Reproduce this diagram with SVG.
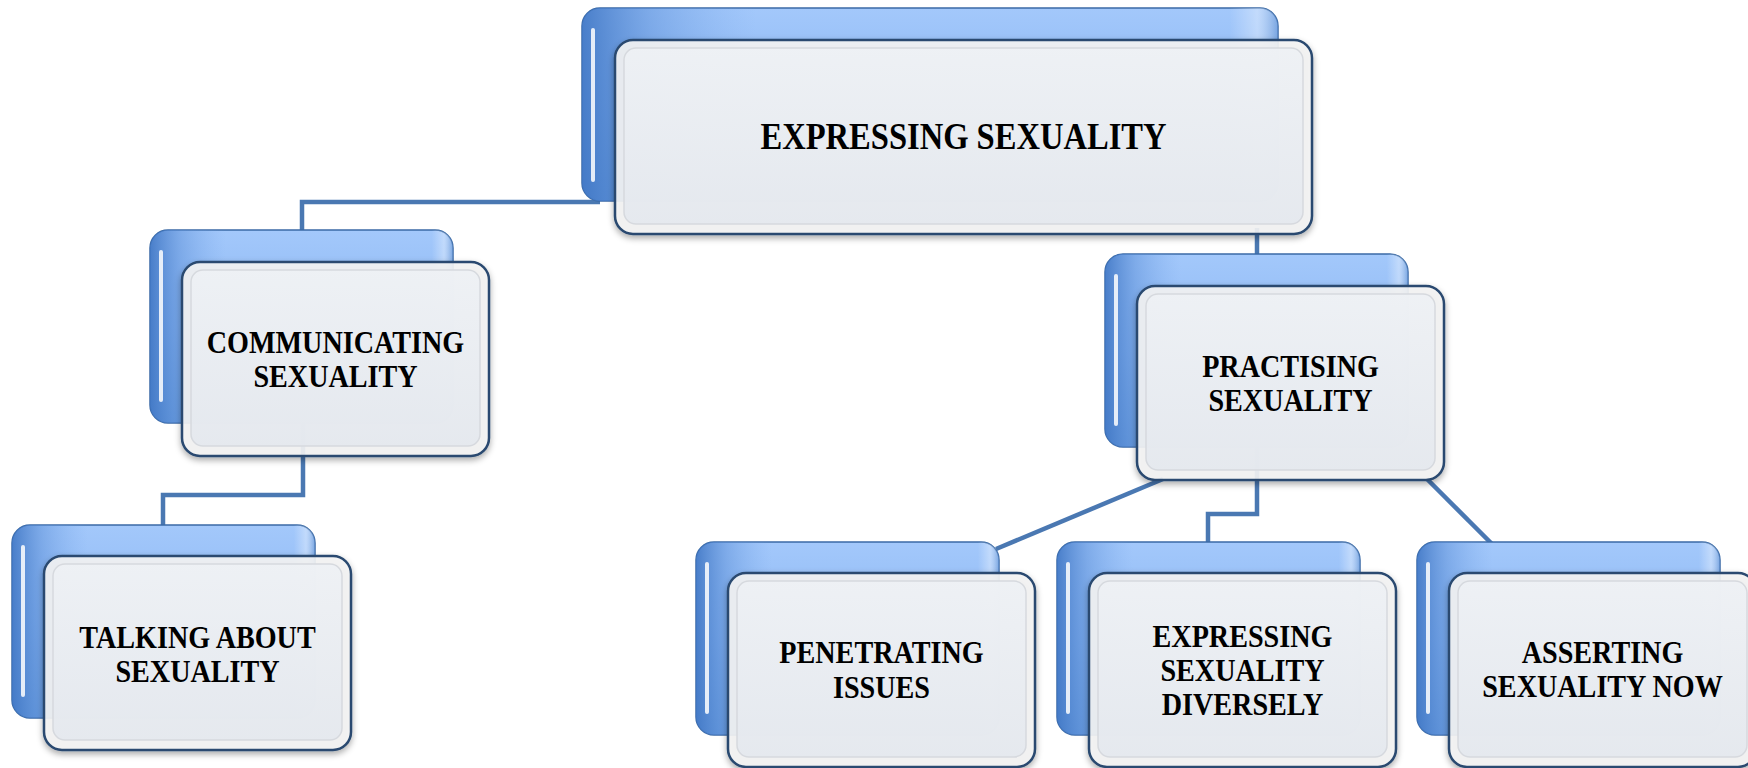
<svg xmlns="http://www.w3.org/2000/svg" width="1748" height="768" viewBox="0 0 1748 768">
<defs>
<linearGradient id="gBackV" x1="0" y1="0" x2="0" y2="1">
<stop offset="0" stop-color="#a3c8fb"/>
<stop offset="0.5" stop-color="#8db8f3"/>
<stop offset="1" stop-color="#6c9fe0"/>
</linearGradient>
<linearGradient id="gBackH" x1="0" y1="0" x2="1" y2="0">
<stop offset="0" stop-color="#3f76c4" stop-opacity="0.9"/>
<stop offset="0.1" stop-color="#5b8fd8" stop-opacity="0.5"/>
<stop offset="0.25" stop-color="#7aa9ea" stop-opacity="0"/>
<stop offset="0.93" stop-color="#ffffff" stop-opacity="0"/>
<stop offset="0.97" stop-color="#ffffff" stop-opacity="0.35"/>
<stop offset="1" stop-color="#5e8fd0" stop-opacity="0.6"/>
</linearGradient>
<linearGradient id="gFront" x1="0" y1="0" x2="0" y2="1">
<stop offset="0" stop-color="#eef1f5"/>
<stop offset="1" stop-color="#e4e8ee"/>
</linearGradient>
<filter id="shadow" x="-10%" y="-10%" width="120%" height="130%">
<feDropShadow dx="0" dy="3" stdDeviation="3" flood-color="#000" flood-opacity="0.35"/>
</filter>
</defs>
<style>
.back{fill:url(#gBackV);stroke:#3b6aa6;stroke-width:1.5}
.backH{fill:url(#gBackH)}
.hl{stroke:#ffffff;stroke-width:4;stroke-linecap:round;opacity:0.85}
.front{fill:#f4f4f4;fill-opacity:0.9;stroke:#2a4a70;stroke-width:2.5}
.inner{fill:url(#gFront);fill-opacity:0.9;stroke:#d6d9de;stroke-width:1.5}
.conn{fill:none;stroke:#4a78b2;stroke-width:4.5}
.lbl{font-family:"Liberation Serif","Times New Roman",serif;font-weight:bold;font-size:32px;fill:#000;text-anchor:middle}
.big{font-size:37px}
</style>

<g id="connectors">
<path class="conn" d="M302,231 V202 H600"/>
<path class="conn" d="M303,420 V495 H163 V528"/>
<path class="conn" d="M1257,228 V258"/>
<path class="conn" d="M1163,479 L996,549"/>
<path class="conn" d="M1257,446 V514 H1208 V545"/>
<path class="conn" d="M1427,479 L1497,549"/>
</g>

<g id="node-expressing-sexuality">
<rect class="back" x="582" y="8" width="696" height="193" rx="18"/>
<rect class="backH" x="582" y="8" width="696" height="193" rx="18"/>
<line class="hl" x1="593" y1="30" x2="593" y2="180"/>
<g filter="url(#shadow)">
<rect class="front" x="615" y="40" width="697" height="194" rx="18"/>
</g>
<rect class="inner" x="624" y="48" width="679" height="176" rx="12"/>
<text class="lbl big" transform="translate(963.5,0) scale(0.88,1)"><tspan x="0" y="149">EXPRESSING SEXUALITY</tspan></text>
</g>

<g id="node-communicating">
<rect class="back" x="150" y="230" width="303" height="193" rx="18"/>
<rect class="backH" x="150" y="230" width="303" height="193" rx="18"/>
<line class="hl" x1="161" y1="252" x2="161" y2="400"/>
<g filter="url(#shadow)">
<rect class="front" x="182" y="262" width="307" height="194" rx="18"/>
</g>
<rect class="inner" x="191" y="270" width="289" height="176" rx="12"/>
<text class="lbl" transform="translate(335.5,0) scale(0.88,1)"><tspan x="0" y="353">COMMUNICATING</tspan><tspan x="0" y="387">SEXUALITY</tspan></text>
</g>

<g id="node-talking">
<rect class="back" x="12" y="525" width="303" height="193" rx="18"/>
<rect class="backH" x="12" y="525" width="303" height="193" rx="18"/>
<line class="hl" x1="23" y1="547" x2="23" y2="695"/>
<g filter="url(#shadow)">
<rect class="front" x="44" y="556" width="307" height="194" rx="18"/>
</g>
<rect class="inner" x="53" y="564" width="289" height="176" rx="12"/>
<text class="lbl" transform="translate(197.5,0) scale(0.88,1)"><tspan x="0" y="648">TALKING ABOUT</tspan><tspan x="0" y="682">SEXUALITY</tspan></text>
</g>

<g id="node-practising">
<rect class="back" x="1105" y="254" width="303" height="193" rx="18"/>
<rect class="backH" x="1105" y="254" width="303" height="193" rx="18"/>
<line class="hl" x1="1116" y1="276" x2="1116" y2="424"/>
<g filter="url(#shadow)">
<rect class="front" x="1137" y="286" width="307" height="194" rx="18"/>
</g>
<rect class="inner" x="1146" y="294" width="289" height="176" rx="12"/>
<text class="lbl" transform="translate(1290.5,0) scale(0.88,1)"><tspan x="0" y="377">PRACTISING</tspan><tspan x="0" y="411">SEXUALITY</tspan></text>
</g>

<g id="node-penetrating">
<rect class="back" x="696" y="542" width="303" height="193" rx="18"/>
<rect class="backH" x="696" y="542" width="303" height="193" rx="18"/>
<line class="hl" x1="707" y1="564" x2="707" y2="712"/>
<g filter="url(#shadow)">
<rect class="front" x="728" y="573" width="307" height="194" rx="18"/>
</g>
<rect class="inner" x="737" y="581" width="289" height="176" rx="12"/>
<text class="lbl" transform="translate(881.5,0) scale(0.88,1)"><tspan x="0" y="663">PENETRATING</tspan><tspan x="0" y="698">ISSUES</tspan></text>
</g>

<g id="node-diversely">
<rect class="back" x="1057" y="542" width="303" height="193" rx="18"/>
<rect class="backH" x="1057" y="542" width="303" height="193" rx="18"/>
<line class="hl" x1="1068" y1="564" x2="1068" y2="712"/>
<g filter="url(#shadow)">
<rect class="front" x="1089" y="573" width="307" height="194" rx="18"/>
</g>
<rect class="inner" x="1098" y="581" width="289" height="176" rx="12"/>
<text class="lbl" transform="translate(1242.5,0) scale(0.88,1)"><tspan x="0" y="647">EXPRESSING</tspan><tspan x="0" y="681">SEXUALITY</tspan><tspan x="0" y="715">DIVERSELY</tspan></text>
</g>

<g id="node-asserting">
<rect class="back" x="1417" y="542" width="303" height="193" rx="18"/>
<rect class="backH" x="1417" y="542" width="303" height="193" rx="18"/>
<line class="hl" x1="1428" y1="564" x2="1428" y2="712"/>
<g filter="url(#shadow)">
<rect class="front" x="1449" y="573" width="307" height="194" rx="18"/>
</g>
<rect class="inner" x="1458" y="581" width="289" height="176" rx="12"/>
<text class="lbl" transform="translate(1602.5,0) scale(0.88,1)"><tspan x="0" y="663">ASSERTING</tspan><tspan x="0" y="697">SEXUALITY NOW</tspan></text>
</g>
</svg>
